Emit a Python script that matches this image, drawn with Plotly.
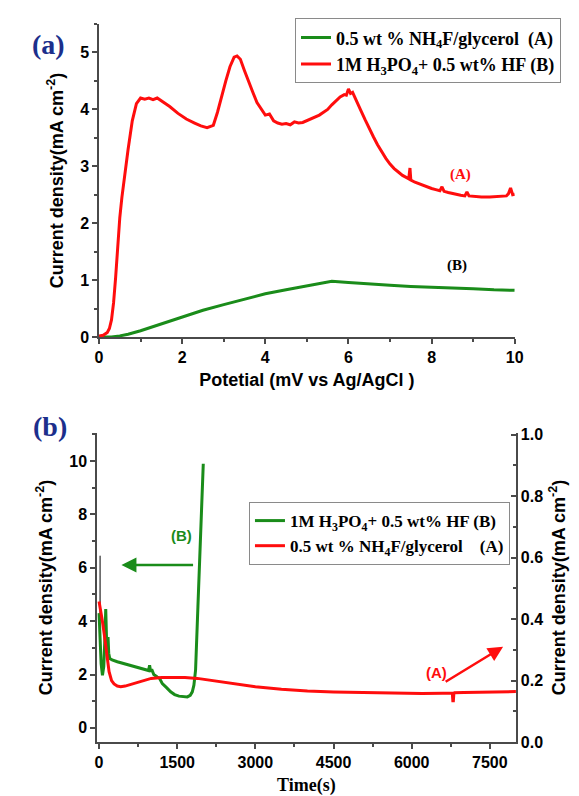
import plotly.graph_objects as go

# ---------------- Panel (a) data ----------------
pot_red = [0, 0.1, 0.2, 0.25, 0.3, 0.35, 0.4, 0.45, 0.5, 0.55, 0.6, 0.7, 0.8, 0.9, 1.0, 1.1, 1.2, 1.3, 1.4, 1.5,
           1.7, 1.9, 2.1, 2.3, 2.45, 2.6, 2.75, 2.85, 2.95, 3.05, 3.15, 3.25, 3.32, 3.4, 3.5, 3.6, 3.7, 3.8, 3.9,
           4.0, 4.1, 4.2, 4.3, 4.4, 4.5, 4.6, 4.7, 4.8, 4.9, 5.0, 5.1, 5.2, 5.3, 5.4, 5.5, 5.6, 5.7, 5.8, 5.9,
           5.95, 6.0, 6.05, 6.1, 6.2, 6.3, 6.4, 6.5, 6.6, 6.7, 6.8, 6.9, 7.0, 7.1, 7.2, 7.3, 7.4, 7.45, 7.48,
           7.5, 7.6, 7.7, 7.8, 7.9, 8.0, 8.1, 8.2, 8.25, 8.3, 8.4, 8.5, 8.6, 8.7, 8.8, 8.85, 8.9, 9.0, 9.2,
           9.4, 9.6, 9.8, 9.85, 9.9, 9.95, 10.0]
cur_red = [0.02, 0.03, 0.08, 0.15, 0.3, 0.6, 1.05, 1.6, 2.1, 2.45, 2.75, 3.3, 3.8, 4.1, 4.2, 4.18, 4.2, 4.17, 4.2, 4.15,
           4.05, 3.93, 3.83, 3.76, 3.71, 3.68, 3.72, 3.95, 4.25, 4.5, 4.75, 4.92, 4.94, 4.88, 4.68, 4.48, 4.3, 4.12, 4.0,
           3.9, 3.92, 3.8, 3.76, 3.74, 3.75, 3.73, 3.78, 3.76, 3.77, 3.8, 3.83, 3.86, 3.9, 3.95, 4.0, 4.08, 4.15, 4.22, 4.26,
           4.25, 4.36, 4.28, 4.3, 4.15, 3.98, 3.82, 3.66, 3.52, 3.38, 3.25, 3.14, 3.04, 2.96, 2.9, 2.84, 2.8, 2.78, 2.97,
           2.76, 2.72, 2.69, 2.66, 2.63, 2.61, 2.59, 2.57, 2.64, 2.56, 2.54, 2.52, 2.5, 2.49, 2.48, 2.55, 2.48, 2.47, 2.46,
           2.46, 2.47, 2.48, 2.52, 2.62, 2.5, 2.51]
pot_green = [0, 0.3, 0.5, 0.7, 1.0, 1.5, 2.0, 2.5, 3.0, 3.5, 4.0, 4.5, 5.0, 5.3, 5.6, 6.0, 6.5, 7.0, 7.5, 8.0, 8.5,
             9.0, 9.5, 10.0]
cur_green = [0, 0, 0.02, 0.05, 0.11, 0.23, 0.36, 0.47, 0.57, 0.67, 0.76, 0.83, 0.9, 0.94, 0.98, 0.96, 0.93, 0.91,
             0.89, 0.88, 0.86, 0.85, 0.83, 0.82]

# ---------------- Panel (b) data ----------------
time_green = [0, 20, 40, 65, 90, 115, 128, 145, 160, 172, 185, 205, 250, 350, 479, 600, 700, 799, 900, 950, 970,
              990, 1010, 1050, 1118, 1160, 1214, 1250, 1300, 1374, 1450, 1533, 1600, 1693, 1750, 1789, 1820, 1852,
              1897, 1948, 1975, 2000]
cur_time_green = [4.3, 3.3, 2.4, 1.97, 2.3, 3.5, 4.45, 3.2, 3.0, 3.4, 2.8, 2.6, 2.55, 2.48, 2.41, 2.35, 2.3, 2.25,
                  2.2, 2.15, 2.35, 2.1, 2.2, 2.0, 1.91, 1.86, 1.66, 1.6, 1.5, 1.35, 1.25, 1.19, 1.17, 1.16, 1.22,
                  1.35, 1.6, 2.16, 4.53, 7.0, 8.6, 9.9]
time_spike = [15, 20, 25]
cur_spike = [4.2, 6.45, 4.0]
time_red = [0, 30, 65, 100, 128, 160, 192, 240, 287, 350, 416, 500, 600, 700, 800, 900, 1000, 1200, 1437, 1650,
            1885, 2100, 2332, 2600, 3000, 3500, 4000, 4500, 5000, 5400, 5800, 6200, 6600, 6780, 6790, 6800, 6810,
            6820, 7000, 7400, 8000]
cur_time_red = [0.457, 0.43, 0.392, 0.35, 0.31, 0.27, 0.229, 0.2, 0.189, 0.182, 0.18, 0.182, 0.187, 0.193, 0.198,
                0.203, 0.207, 0.21, 0.211, 0.21, 0.207, 0.202, 0.196, 0.189, 0.18, 0.172, 0.166, 0.163, 0.161,
                0.159, 0.158, 0.158, 0.159, 0.159, 0.134, 0.134, 0.159, 0.16, 0.161, 0.163, 0.164]

GREEN = "#1a8c1a"
RED = "#ff0d0d"
AX = "#4a4a4a"
SANS = "Liberation Sans"
SERIF = "Liberation Serif"
NB = "\u00a0"

lbl_A = "0.5 wt % NH<sub>4</sub>F/glycerol" + NB * 2 + "(A)"
lbl_B = "1M H<sub>3</sub>PO<sub>4</sub>+ 0.5 wt% HF (B)"
lbl_A2 = "0.5 wt % NH<sub>4</sub>F/glycerol" + NB * 4 + "(A)"

fig = go.Figure()
fig.add_trace(go.Scatter(x=pot_green, y=cur_green, mode="lines", line=dict(color=GREEN, width=3),
                         name=lbl_A, xaxis="x", yaxis="y", legend="legend"))
fig.add_trace(go.Scatter(x=pot_red, y=cur_red, mode="lines", line=dict(color=RED, width=3),
                         name=lbl_B, xaxis="x", yaxis="y", legend="legend"))

fig.add_trace(go.Scatter(x=time_spike, y=cur_spike, mode="lines", line=dict(color="#555555", width=1),
                         showlegend=False, xaxis="x2", yaxis="y2"))
fig.add_trace(go.Scatter(x=time_green, y=cur_time_green, mode="lines", line=dict(color=GREEN, width=3),
                         name=lbl_B, xaxis="x2", yaxis="y2", legend="legend2"))
fig.add_trace(go.Scatter(x=time_red, y=cur_time_red, mode="lines", line=dict(color=RED, width=3),
                         name=lbl_A2, xaxis="x2", yaxis="y3", legend="legend2"))

tickfont = dict(family=SANS, size=16, color="black", weight="bold")
titlefont = dict(family=SANS, size=18, color="black", weight="bold")


def axis_common(**kw):
    d = dict(showline=True, linecolor=AX, linewidth=1.5, ticks="outside", ticklen=5, tickwidth=1.5,
             tickcolor=AX, showgrid=False, zeroline=False, tickfont=tickfont, automargin=False)
    d.update(kw)
    return d


def legend_style(size):
    return dict(xanchor="left", yanchor="top", bordercolor="#8a8a8a", borderwidth=1, bgcolor="white",
                font=dict(family=SERIF, size=size, color="black", weight="bold"), tracegroupgap=0,
                itemwidth=30)


fig.update_layout(
    width=579, height=796, margin=dict(l=0, r=0, t=0, b=0, autoexpand=False),
    paper_bgcolor="white", plot_bgcolor="white",
    legend=dict(x=0.5095, y=0.977, **legend_style(18)),
    legend2=dict(x=0.430, y=0.3693, **legend_style(17)),
    xaxis=axis_common(domain=[0.171, 0.889], anchor="y", range=[0, 10], dtick=2, tick0=0,
                      minor=dict(dtick=1, ticks="outside", ticklen=3, tickcolor=AX, tickwidth=1.5),
                      title=dict(text="Potetial (mV vs Ag/AgCl )", font=titlefont, standoff=8)),
    yaxis=axis_common(domain=[0.5766, 0.9698], anchor="x", range=[0, 5.5], dtick=1, tick0=0,
                      minor=dict(dtick=0.5, ticks="outside", ticklen=3, tickcolor=AX, tickwidth=1.5),
                      title=dict(text="Current density(mA cm<sup>-2</sup>)", font=titlefont, standoff=12)),
    xaxis2=axis_common(domain=[0.1675, 0.891], anchor="y2", range=[-40, 8000], dtick=1500, tick0=0,
                       minor=dict(dtick=750, ticks="outside", ticklen=3, tickcolor=AX, tickwidth=1.5),
                       title=dict(text="Time(s)", font=dict(family=SERIF, size=18, color="black", weight="bold"),
                                  standoff=13)),
    xaxis3=dict(overlaying="x2", side="top", anchor="y2", range=[-40, 8000], showline=True, linecolor=AX,
                linewidth=1.5, ticks="inside", ticklen=5, tickwidth=1.5, tickcolor=AX, dtick=800, tick0=0,
                showticklabels=False, showgrid=False, zeroline=False, automargin=False),
    yaxis2=axis_common(domain=[0.0678, 0.456], anchor="x2", range=[-0.53, 11.05], dtick=2, tick0=0,
                       minor=dict(dtick=1, ticks="outside", ticklen=3, tickcolor=AX, tickwidth=1.5),
                       title=dict(text="Current density(mA cm<sup>-2</sup>)", font=titlefont, standoff=12)),
    yaxis3=axis_common(overlaying="y2", side="right", anchor="x2", range=[0, 1.005], dtick=0.2, tick0=0,
                       tickformat=".1f", ticks="inside",
                       minor=dict(dtick=0.1, ticks="inside", ticklen=3, tickcolor=AX, tickwidth=1.5),
                       title=dict(text="Current density(mA cm<sup>-2</sup>)", font=titlefont, standoff=10)),
    annotations=[
        dict(text="(a)", x=0.052, y=0.966, xref="paper", yref="paper", showarrow=False,
             font=dict(family=SERIF, size=28, color="#1c2f8c", weight="bold")),
        dict(text="(b)", x=0.053, y=0.4636, xref="paper", yref="paper", showarrow=False,
             font=dict(family=SERIF, size=28, color="#1c2f8c", weight="bold")),
        dict(text="(A)", x=8.70, y=2.85, xref="x", yref="y", showarrow=False,
             font=dict(family=SERIF, size=15, color=RED, weight="bold")),
        dict(text="(B)", x=8.62, y=1.25, xref="x", yref="y", showarrow=False,
             font=dict(family=SERIF, size=15, color="black", weight="bold")),
        dict(text="(B)", x=1584, y=7.2, xref="x2", yref="y2", showarrow=False,
             font=dict(family=SANS, size=15, color=GREEN, weight="bold")),
        dict(text="", x=429, y=6.1, xref="x2", yref="y2", ax=1833, ay=6.1, axref="x2", ayref="y2",
             showarrow=True, arrowhead=2, arrowsize=1.2, arrowwidth=2.5, arrowcolor=GREEN),
        dict(text="(A)", x=6470, y=0.225, xref="x2", yref="y3", showarrow=False,
             font=dict(family=SANS, size=15, color=RED, weight="bold")),
        dict(text="", x=7754, y=0.31, xref="x2", yref="y3", ax=6623, ay=0.193, axref="x2", ayref="y3",
             showarrow=True, arrowhead=2, arrowsize=1.2, arrowwidth=2.5, arrowcolor=RED),
    ],
)

fig.write_html(
    "out.html",
    config={"displayModeBar": False},
    post_script="document.body.style.margin='0';document.body.style.overflow='hidden';"
                "document.documentElement.style.overflow='hidden';",
)
